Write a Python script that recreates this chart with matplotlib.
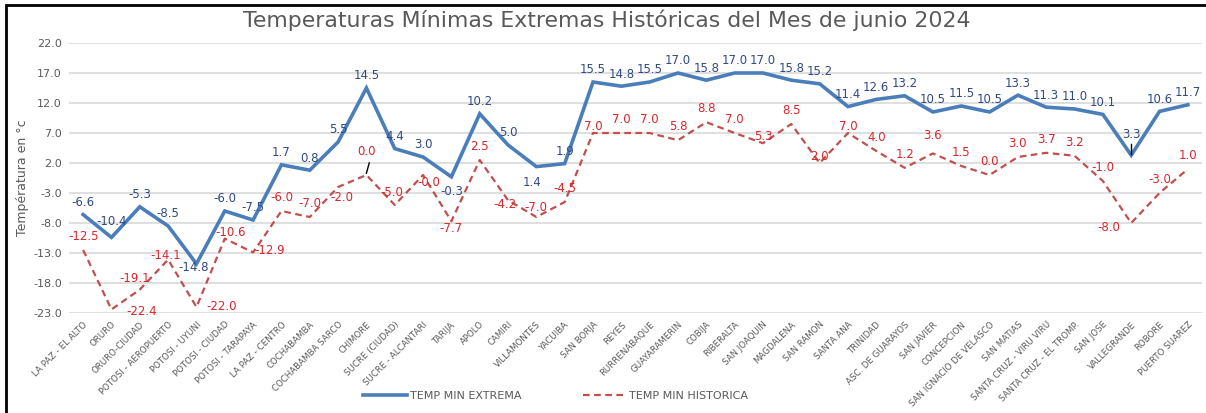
import matplotlib.pyplot as plt
from matplotlib.patches import Rectangle

estaciones = [
    "LA PAZ - EL ALTO", "ORURO", "ORURO-CIUDAD", "POTOSI - AEROPUERTO",
    "POTOSI - UYUNI", "POTOSI - CIUDAD", "POTOSI - TARAPAYA", "LA PAZ - CENTRO",
    "COCHABAMBA", "COCHABAMBA SARCO", "CHIMORE", "SUCRE (CIUDAD)",
    "SUCRE - ALCANTARI", "TARIJA", "APOLO", "CAMIRI", "VILLAMONTES", "YACUIBA",
    "SAN BORJA", "REYES", "RURRENABAQUE", "GUAYARAMERIN", "COBIJA", "RIBERALTA",
    "SAN JOAQUIN", "MAGDALENA", "SAN RAMON", "SANTA ANA", "TRINIDAD",
    "ASC. DE GUARAYOS", "SAN JAVIER", "CONCEPCION", "SAN IGNACIO DE VELASCO",
    "SAN MATIAS", "SANTA CRUZ - VIRU VIRU", "SANTA CRUZ - EL TROMP.", "SAN JOSE",
    "VALLEGRANDE", "ROBORE", "PUERTO SUAREZ",
]
temp_extrema = [
    -6.6, -10.4, -5.3, -8.5, -14.8, -6.0, -7.5, 1.7, 0.8, 5.5, 14.5, 4.4, 3.0,
    -0.3, 10.2, 5.0, 1.4, 1.9, 15.5, 14.8, 15.5, 17.0, 15.8, 17.0, 17.0, 15.8,
    15.2, 11.4, 12.6, 13.2, 10.5, 11.5, 10.5, 13.3, 11.3, 11.0, 10.1, 3.3, 10.6,
    11.7,
]
temp_historica = [
    -12.5, -22.4, -19.1, -14.1, -22.0, -10.6, -12.9, -6.0, -7.0, -2.0, 0.0,
    -5.0, -0.0, -7.7, 2.5, -4.2, -7.0, -4.5, 7.0, 7.0, 7.0, 5.8, 8.8, 7.0, 5.3,
    8.5, 2.0, 7.0, 4.0, 1.2, 3.6, 1.5, 0.0, 3.0, 3.7, 3.2, -1.0, -8.0, -3.0,
    1.0,
]
y_ticks = [-23.0, -18.0, -13.0, -8.0, -3.0, 2.0, 7.0, 12.0, 17.0, 22.0]

# desplazamientos de etiquetas (puntos)
off_ext = {1: (0, 7), 4: (-2, -7), 13: (0, -15), 16: (-3, -16), 37: (0, 10)}
off_hist = {1: (22, -6), 2: (-4, 3), 3: (-2, -2), 4: (18, -4), 5: (4, 0),
            6: (12, -3), 9: (3, -12), 10: (0, 12), 11: (-2, 4), 12: (4, -10),
            13: (0, -10), 15: (-2, -8), 16: (0, 2), 18: (0, 0), 24: (0, 0),
            26: (0, 0), 27: (0, 0), 30: (0, 8), 37: (-16, -8)}

azul = "#4A7EBB"
rojo = "#C0504D"

fig = plt.figure(figsize=(12.06, 4.13), dpi=100)
ax = fig.add_axes([0.0572, 0.2421, 0.9395, 0.6538])

x = range(len(estaciones))
ax.plot(x, temp_extrema, color=azul, lw=2.6, label="TEMP MIN EXTREMA",
        solid_joinstyle="miter")
ax.plot(x, temp_historica, color=rojo, lw=1.6, ls=(0, (3, 2)),
        label="TEMP MIN HISTORICA")

for i, v in enumerate(temp_extrema):
    dx, dy = off_ext.get(i, (0, 4))
    ax.annotate(f"{v:.1f}", (i, v), xytext=(dx, dy), textcoords="offset points",
                ha="center", va="bottom", fontsize=8.5, color="#2F4A86")
for i, v in enumerate(temp_historica):
    dx, dy = off_hist.get(i, (0, 5))
    ax.annotate(f"{v:.1f}", (i, v), xytext=(dx, dy), textcoords="offset points",
                ha="center", va="bottom", fontsize=8.5, color="#D9262B")

# lineas guia de etiquetas
ax.plot([10, 10.1], [0.3, 2.0], color="black", lw=1)
ax.plot([37, 37], [3.5, 5.2], color="black", lw=1)

ax.set_xlim(-0.5, len(estaciones) - 0.5)
ax.set_ylim(-23, 22)
ax.set_yticks(y_ticks)
ax.set_yticklabels([f"{t:.1f}" for t in y_ticks], fontsize=8, color="#595959")
ax.set_xticks(list(x))
ax.set_xticklabels(estaciones, rotation=45, ha="right", rotation_mode="anchor",
                   fontsize=6.2, color="#595959")
ax.tick_params(length=0, pad=5)
ax.grid(axis="y", color="#D9D9D9", lw=1.2)
ax.set_axisbelow(True)
for s in ax.spines.values():
    s.set_visible(False)

ax.set_ylabel("Températura en °c", fontsize=9, color="#595959", labelpad=3)
fig.text(0.503, 0.95, "Temperaturas Mínimas Extremas Históricas del Mes de junio 2024",
         ha="center", va="center", fontsize=15.8, color="#595959")

fig.legend(loc="center", bbox_to_anchor=(0.461, 0.041), ncol=2, frameon=False,
           fontsize=8, handlelength=3.9, handletextpad=0.3, columnspacing=5.5,
           labelcolor="#595959")

fig.patches.append(Rectangle((6 / 1206, -0.1), 1.2, 1.1 - 5 / 413,
                             transform=fig.transFigure, fill=False,
                             ec="black", lw=2))

fig.savefig("out.png", dpi=100)
